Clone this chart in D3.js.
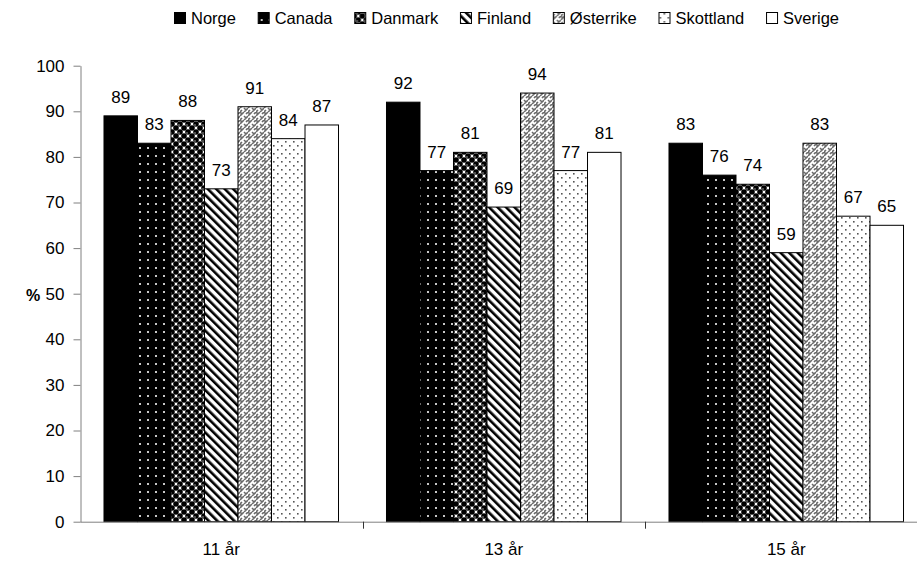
<!DOCTYPE html>
<html>
<head>
<meta charset="utf-8">
<script src="https://cdn.jsdelivr.net/npm/d3@7/dist/d3.min.js"></script>
<style>
  html, body { margin: 0; padding: 0; background: #fff; }
  svg { display: block; font-family: Arial, "Liberation Sans", sans-serif; }
</style>
</head>
<body>
<svg id="chart" width="917" height="561"></svg>
<script>
const categories = ["11 år", "13 år", "15 år"];
const countries = ["Norge", "Canada", "Danmark", "Finland", "Østerrike", "Skottland", "Sverige"];
const norge     = [89, 92, 83];
const canada    = [83, 77, 76];
const danmark   = [88, 81, 74];
const finland   = [73, 69, 59];
const osterrike = [91, 94, 83];
const skottland = [84, 77, 67];
const sverige   = [87, 81, 65];
const yTicks = [0, 10, 20, 30, 40, 50, 60, 70, 80, 90, 100];
const yLabel = "%";

const seriesValues = [norge, canada, danmark, finland, osterrike, skottland, sverige];
const FONT = "Arial, 'Liberation Sans', sans-serif";

const svg = d3.select("#chart");
const defs = svg.append("defs");

// ---- patterns ----
function pat(id, w, h, build, transform) {
  const p = defs.append("pattern").attr("id", id)
    .attr("patternUnits", "userSpaceOnUse").attr("width", w).attr("height", h);
  if (transform) p.attr("patternTransform", transform);
  build(p);
}
pat("p0", 8, 8, p => p.append("rect").attr("width", 8).attr("height", 8).attr("fill", "#000"));
pat("p1", 8, 8, p => {
  p.append("rect").attr("width", 8).attr("height", 8).attr("fill", "#000");
  p.append("rect").attr("x", 3).attr("y", 3).attr("width", 2).attr("height", 2).attr("fill", "#c8c8c8");
});
pat("p2", 8, 8, p => {
  p.append("rect").attr("width", 8).attr("height", 8).attr("fill", "#fff");
  [[0,0],[8,0],[0,8],[8,8],[4,4]].forEach(([cx,cy]) => {
    p.append("circle").attr("cx", cx).attr("cy", cy).attr("r", 2.8).attr("fill", "#000");
  });
  p.append("circle").attr("cx", 3).attr("cy", 5).attr("r", 0.8).attr("fill", "#aaa");
});
pat("p3", 6, 6, p => {
  p.append("rect").attr("width", 6).attr("height", 6).attr("fill", "#fff");
  p.append("rect").attr("x", 0).attr("y", 0).attr("width", 2.6).attr("height", 6).attr("fill", "#000");
}, "rotate(-45)");
pat("p4", 8, 8, p => {
  p.append("rect").attr("width", 8).attr("height", 8).attr("fill", "#fff");
  p.append("path").attr("d", "M0,4 L4,0 M4,8 L8,4 M0,0 L2,2 M4,4 L6,6 M6,2 L8,0 M0,8 L2,6")
    .attr("stroke", "#6a6a6a").attr("stroke-width", 1.6).attr("fill", "none");
});
pat("p5", 8, 8, p => {
  p.append("rect").attr("width", 8).attr("height", 8).attr("fill", "#fff");
  p.append("rect").attr("x", 1).attr("y", 1).attr("width", 1.6).attr("height", 1.6).attr("fill", "#555");
  p.append("rect").attr("x", 5).attr("y", 5).attr("width", 1.6).attr("height", 1.6).attr("fill", "#555");
});
pat("p6", 8, 8, p => p.append("rect").attr("width", 8).attr("height", 8).attr("fill", "#fff"));

const fills = countries.map((c, i) => `url(#p${i})`);

// ---- scales ----
const x0 = d3.scaleBand().domain(categories).range([80, 927.5]).padding(0);
const x1 = d3.scaleBand().domain(countries).range([0, x0.bandwidth()]).paddingInner(0).paddingOuter(0.716);
const y = d3.scaleLinear().domain([0, 100]).range([521.7, 65.7]);

// ---- bars ----
const data = [];
categories.forEach((cat, ci) => {
  countries.forEach((c, si) => data.push({ cat, c, si, v: seriesValues[si][ci] }));
});

svg.append("g").selectAll("rect").data(data).join("rect")
  .attr("x", d => x0(d.cat) + x1(d.c))
  .attr("y", d => y(d.v))
  .attr("width", x1.bandwidth())
  .attr("height", d => y(0) - y(d.v))
  .attr("fill", d => fills[d.si])
  .attr("stroke", "#000").attr("stroke-width", 1);

svg.append("g").selectAll("text").data(data).join("text")
  .attr("x", d => x0(d.cat) + x1(d.c) + x1.bandwidth() / 2)
  .attr("y", d => y(d.v) - 13)
  .attr("text-anchor", "middle")
  .attr("font-size", 17)
  .attr("fill", "#000")
  .text(d => d.v);

// ---- axes ----
const yAxis = d3.axisLeft(y).tickValues(yTicks).tickSize(7).tickPadding(9).tickSizeOuter(0);
const gy = svg.append("g").attr("transform", "translate(80.5,0)").call(yAxis);
gy.selectAll("path, line").attr("stroke", "#808080");
gy.selectAll("text").attr("font-size", 17).attr("fill", "#000").attr("font-family", FONT);

const xAxis = d3.axisBottom(x0).tickSize(0).tickPadding(21).tickSizeOuter(0);
const gx = svg.append("g").attr("transform", "translate(0,521.7)").call(xAxis);
gx.select(".domain").attr("stroke", "#808080");
gx.selectAll("text").attr("font-size", 17).attr("fill", "#000").attr("font-family", FONT);
gx.append("g").selectAll("line").data(categories.slice(1)).join("line")
  .attr("x1", d => Math.round(x0(d)) + 0.5).attr("x2", d => Math.round(x0(d)) + 0.5)
  .attr("y1", 0).attr("y2", 7).attr("stroke", "#333");

svg.append("text").attr("x", 33).attr("y", 300.5).attr("text-anchor", "middle")
  .attr("font-size", 16).attr("font-weight", "bold").text(yLabel);

// ---- legend ----
const lg = svg.append("g");
const items = [];
let textTotal = 0;
countries.forEach((c, i) => {
  const g = lg.append("g");
  g.append("rect").attr("x", 0.5).attr("y", 12.5).attr("width", 11).attr("height", 11)
    .attr("fill", fills[i]).attr("stroke", "#000").attr("stroke-width", 1);
  const t = g.append("text").attr("x", 17).attr("y", 24).attr("font-size", 16.5).text(c);
  const w = t.node().getComputedTextLength();
  textTotal += w;
  items.push({ g, w });
});
const legStart = 174, legEnd = 839;
const gap = (legEnd - legStart - textTotal - 17 * countries.length) / (countries.length - 1);
let lx = legStart;
items.forEach(it => {
  it.g.attr("transform", `translate(${lx},0)`);
  lx += 17 + it.w + gap;
});
</script>
</body>
</html>
